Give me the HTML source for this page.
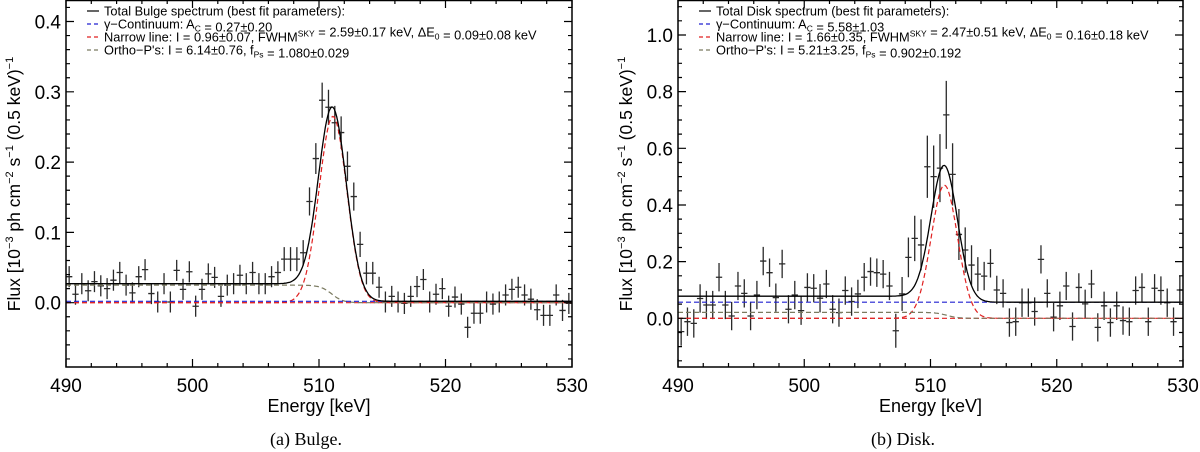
<!DOCTYPE html>
<html><head><meta charset="utf-8"><style>
body{margin:0;background:#fff;width:1200px;height:452px;overflow:hidden}
svg{display:block}
text{font-family:"Liberation Sans",Arial,sans-serif}
.cap{font-family:"Liberation Serif",serif;font-size:18px}
</style></head><body>
<svg id="fig" width="1200" height="452" viewBox="0 0 1200 452"></svg>
<script>
const energies = Array.from({length:80},(_,i)=>490.25+0.5*i);
const bulgeFlux = [0.037,0.012,0.027,0.017,0.03,0.024,0.02,0.032,0.043,0.025,
0.014,0.037,0.047,0.013,0.001,0.027,0.001,0.046,0.019,0.044,
-0.005,0.019,0.041,0.036,0.009,0.025,0.027,0.039,0.027,0.043,
0.027,0.027,0.037,0.043,0.062,0.062,0.062,0.071,0.144,0.205,
0.288,0.278,0.256,0.242,0.194,0.151,0.083,0.042,0.042,0.022,
0.001,0.009,0.001,-0.001,0.009,0.023,0.033,0.001,0.012,0.02,
-0.005,0.008,-0.002,-0.035,-0.015,-0.015,0.001,-0.002,0.001,0.011,
0.019,0.022,0.011,0.005,-0.01,-0.018,-0.018,0.011,-0.011,-0.001];
const bulgeErr = [0.015,0.015,0.015,0.015,0.015,0.015,0.015,0.015,0.015,0.015,0.015,0.015,0.015,0.015,0.015,0.015,0.015,0.015,0.015,0.015,0.015,0.015,0.015,0.015,0.015,0.015,0.015,0.015,0.015,0.015,0.015,0.015,0.015,0.016,0.017,0.017,0.017,0.018,0.02,0.022,0.025,0.025,0.024,0.023,0.021,0.02,0.018,0.016,0.016,0.015,0.015,0.015,0.015,0.015,0.015,0.015,0.015,0.015,0.015,0.015,0.015,0.015,0.015,0.015,0.015,0.015,0.015,0.015,0.015,0.015,0.015,0.015,0.015,0.015,0.015,0.015,0.015,0.015,0.015,0.015];
const diskFlux = [-0.047,-0.012,-0.018,0.07,0.047,0.047,0.145,0.047,0.008,0.114,
0.088,0.008,0.082,0.202,0.161,0.073,0.192,0.032,0.082,0.027,
0.109,0.106,0.071,0.121,0.032,0.02,0.098,0.059,0.086,0.145,
0.165,0.161,0.156,0.114,-0.044,0.086,0.215,0.282,0.259,0.535,
0.5,0.53,0.718,0.508,0.296,0.241,0.188,0.156,0.149,0.194,
0.1,0.088,-0.015,-0.012,0.055,0.055,0.024,0.208,0.088,0.004,
0.044,0.114,-0.029,0.109,0.051,0.121,-0.032,0.044,-0.015,0.044,
-0.008,-0.012,0.098,0.109,-0.012,0.106,0.098,0.055,-0.012,0.1];
const diskErr = [0.05,0.05,0.05,0.05,0.05,0.05,0.05,0.05,0.05,0.05,0.05,0.05,0.05,0.05,0.05,0.05,0.05,0.05,0.05,0.05,0.05,0.05,0.05,0.05,0.05,0.05,0.05,0.05,0.05,0.05,0.05,0.05,0.05,0.05,0.06,0.06,0.07,0.08,0.09,0.11,0.11,0.12,0.12,0.11,0.09,0.08,0.07,0.06,0.05,0.05,0.05,0.05,0.05,0.05,0.05,0.05,0.05,0.05,0.05,0.05,0.05,0.05,0.05,0.05,0.05,0.05,0.05,0.05,0.05,0.05,0.05,0.05,0.05,0.05,0.05,0.05,0.05,0.05,0.05,0.05];
// model params: [continuum, line amp, line center, line sigma, ortho amp, ortho edge]
const bulgeModel = [0.002,0.265,511.1,1.1,0.025,511.0];
const diskModel = [0.057,0.47,511.1,1.05,0.021,511.3];
const bulgeYTicks = ["0.0","0.1","0.2","0.3","0.4"];
const diskYTicks = ["0.0","0.2","0.4","0.6","0.8","1.0"];
const xTicks = ["490","500","510","520","530"];

const NS="http://www.w3.org/2000/svg";
const svg=document.getElementById('fig');
function mk(tag,attrs,parent){const e=document.createElementNS(NS,tag);for(const k in attrs)e.setAttribute(k,attrs[k]);(parent||svg).appendChild(e);return e;}

function panel(p){
  const g=mk('g',{});
  
  
  const X=e=>p.x0+(e-490)/40*(p.x1-p.x0);
  const Y=v=>p.yz-v*p.ys;
  const m=p.model;
  const cont=()=>m[0], line=e=>m[1]*Math.exp(-0.5*((e-m[2])/m[3])**2), orth=e=>m[4]/(1+Math.exp((e-m[5])/0.45));
  const curve=(f,attrs,name)=>{let d='';for(let e=490;e<=530.001;e+=0.1){d+=(d?'L':'M')+X(e).toFixed(1)+','+Y(f(e)).toFixed(1);}const el=mk('path',Object.assign({d:d,fill:'none'},attrs),g);};
  const dg=mk('g',{stroke:'#2a2a2a','stroke-width':1.3},g);
  
  
  energies.forEach((e,i)=>{const v=p.flux[i],er=p.err[i];
    const pt=mk('path',{d:`M${X(e-0.25)},${Y(v)}H${X(e+0.25)}M${X(e)},${Y(v-er)}V${Y(v+er)}`},dg);
    
    });
  curve(e=>0,{stroke:'#e02020','stroke-width':1.2,'stroke-dasharray':'5,3'},'narrow-line-baseline');
  curve(line,{stroke:'#e02020','stroke-width':1.2,'stroke-dasharray':'5,3'},'narrow-line-model');
  curve(orth,{stroke:'#7a7a60','stroke-width':1.2,'stroke-dasharray':'5,3'},'ortho-ps-model');
  curve(cont,{stroke:'#2020d0','stroke-width':1.2,'stroke-dasharray':'5,3'},'continuum-model');
  curve(e=>cont()+line(e)+orth(e),{stroke:'#000','stroke-width':1.3},'total-model');
  const fr=mk('rect',{x:p.x0,y:0.5,width:p.x1-p.x0,height:p.yb-0.5,fill:'none',stroke:'#000','stroke-width':1.5},g);
  
  let td='';
  for(let e=490;e<=530;e+=2){const big=(e%10===0),l=big?8:4;td+=`M${X(e)},${p.yb}v${-l}M${X(e)},0v${l}`;}
  for(let v=p.ymin;v<=p.ymax+1e-9;v+=p.minor){const r=Math.round(v/p.minor);const big=(r%p.mpm===0),l=big?8:4;const y=Y(r*p.minor);if(y<0||y>p.yb)continue;td+=`M${p.x0},${y}h${l}M${p.x1},${y}h${-l}`;}
  mk('path',{d:td,stroke:'#000','stroke-width':1.2,fill:'none'},g);
  xTicks.forEach(t=>{const tx=mk('text',{x:X(+t),y:p.yb+25,'font-size':19,'text-anchor':'middle'},g);tx.textContent=t;
    });
  p.yt.forEach(t=>{const tx=mk('text',{x:p.x0-5,y:Y(+t)+7,'font-size':19,'text-anchor':'end'},g);tx.textContent=t;
    });
  const xt=mk('text',{x:(p.x0+p.x1)/2,y:412,'font-size':18,'text-anchor':'middle'},g);xt.textContent='Energy [keV]';
  
  const yt=mk('text',{transform:`translate(${p.x0-46},184) rotate(-90)`,'font-size':17.5,'text-anchor':'middle'},g);
  yt.innerHTML='Flux [10<tspan dy="-7" font-size="11">−3</tspan><tspan dy="7"> ph cm</tspan><tspan dy="-7" font-size="11">−2</tspan><tspan dy="7"> s</tspan><tspan dy="-7" font-size="11">−1</tspan><tspan dy="7"> (0.5 keV)</tspan><tspan dy="-7" font-size="11">−1</tspan>';
  
  const cap=mk('text',{x:p.capx,y:445,'text-anchor':'middle',class:'cap'},g);cap.textContent=p.cap;
  
  const lg=mk('g',{'font-size':12.8},g);
  
  const cols=[['#000',''],['#2020d0','4,3'],['#e02020','4,3'],['#7a7a60','4,3']];
  p.leg.forEach((h,i)=>{const y=11+13*i;
    mk('line',{x1:p.x0+21,x2:p.x0+33,y1:y,y2:y,stroke:cols[i][0],'stroke-width':1.2,'stroke-dasharray':cols[i][1]},lg);
    const t=mk('text',{x:p.x0+38,y:y+4.5},lg);t.innerHTML=h;
    });
}
const sub=(s)=>`<tspan dy="3" font-size="8.5">${s}</tspan><tspan dy="-3"></tspan>`;
const sup=(s)=>`<tspan dy="-5" font-size="8.5">${s}</tspan><tspan dy="5"></tspan>`;
panel({name:'bulge-panel',x0:66,x1:572,yb:367,yz:302.7,ys:703,ymin:-0.08,ymax:0.43,minor:0.02,mpm:5,flux:bulgeFlux,err:bulgeErr,model:bulgeModel,yt:bulgeYTicks,cap:'(a) Bulge.',capx:306,
 leg:['Total Bulge spectrum (best fit parameters):','γ−Continuum: A'+sub('C')+' = 0.27±0.20','Narrow line: I = 0.96±0.07, FWHM'+sup('SKY')+' = 2.59±0.17 keV, ΔE'+sub('0')+' =  0.09±0.08 keV','Ortho−P\'s:   I = 6.14±0.76, f'+sub('Ps')+' = 1.080±0.029']});
panel({name:'disk-panel',x0:678,x1:1183,yb:367,yz:318.3,ys:283.3,ymin:-0.15,ymax:1.1,minor:0.05,mpm:4,flux:diskFlux,err:diskErr,model:diskModel,yt:diskYTicks,cap:'(b) Disk.',capx:903,
 leg:['Total Disk spectrum (best fit parameters):','γ−Continuum: A'+sub('C')+' = 5.58±1.03','Narrow line: I = 1.66±0.35, FWHM'+sup('SKY')+' = 2.47±0.51 keV, ΔE'+sub('0')+' =  0.16±0.18 keV','Ortho−P\'s:   I = 5.21±3.25, f'+sub('Ps')+' = 0.902±0.192']});
</script>
</body></html>
